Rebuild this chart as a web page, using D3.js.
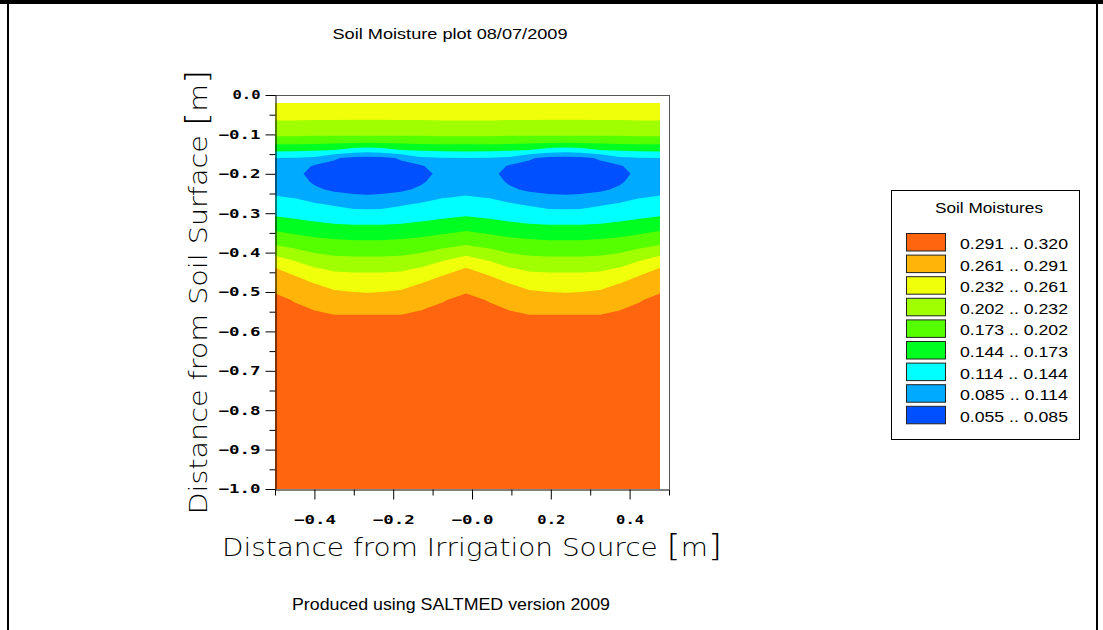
<!DOCTYPE html>
<html><head><meta charset="utf-8">
<script src="https://cdn.jsdelivr.net/npm/d3@7"></script>
<style>html,body{margin:0;padding:0;background:#fff;} svg{display:block}</style>
</head><body>
<svg id="chart" width="1103" height="630"></svg>
<script>
// ---------- DATA ----------
const chartTitle = "Soil Moisture plot 08/07/2009";
const footerText = "Produced using SALTMED version 2009";
const xTitle = "Distance from Irrigation Source ";
const yTitle = "Distance from Soil Surface ";
const legendTitle = "Soil Moistures";

// grid column positions (m from irrigation source)
const xCols = [-0.5, -0.45, -0.4, -0.35, -0.3, -0.265, -0.23, -0.18, -0.13, -0.075, -0.015,
               0.045, 0.095, 0.145, 0.195, 0.237, 0.275, 0.325, 0.375, 0.425, 0.477];
// grid row depths (m)
const depthRows = [-0.02, -0.05, -0.08, -0.10, -0.12, -0.14, -0.16, -0.18, -0.20, -0.22, -0.24,
                   -0.26, -0.28, -0.30, -0.32, -0.34, -0.36, -0.38, -0.40, -0.42, -0.44, -0.46,
                   -0.48, -0.50, -0.52, -0.54, -0.56, -0.58, -0.60, -0.70, -0.80, -0.90, -1.00];
// soil moisture, one row per depth, one value per column
const moisture = [
 [.250,.250,.250,.250,.250,.250,.250,.250,.250,.250,.250,.250,.250,.250,.250,.250,.250,.250,.250,.250,.250],
 [.241,.241,.240,.240,.240,.240,.240,.240,.240,.241,.241,.241,.240,.240,.240,.240,.240,.240,.240,.241,.241],
 [.223,.223,.222,.222,.221,.221,.221,.222,.222,.223,.223,.223,.222,.222,.221,.221,.221,.222,.222,.223,.223],
 [.208,.208,.207,.207,.207,.207,.207,.207,.207,.208,.208,.208,.207,.207,.207,.207,.207,.207,.207,.208,.208],
 [.181,.181,.180,.178,.177,.176,.177,.178,.180,.181,.181,.181,.180,.178,.177,.176,.177,.178,.180,.181,.181],
 [.150,.149,.147,.143,.131,.128,.131,.143,.147,.149,.150,.149,.147,.143,.131,.128,.131,.143,.147,.149,.150],
 [.114,.113,.109,.088,.078,.077,.078,.088,.109,.113,.114,.113,.109,.088,.078,.077,.078,.088,.109,.113,.114],
 [.108,.100,.082,.078,.072,.071,.072,.078,.082,.100,.108,.100,.082,.078,.072,.071,.072,.078,.082,.100,.108],
 [.101,.094,.074,.069,.062,.060,.062,.069,.074,.094,.101,.094,.074,.069,.062,.060,.062,.069,.074,.094,.101],
 [.101,.098,.081,.076,.068,.067,.068,.076,.081,.098,.101,.098,.081,.076,.068,.067,.068,.076,.081,.098,.101],
 [.108,.106,.090,.080,.077,.076,.077,.080,.090,.106,.108,.106,.090,.080,.077,.076,.077,.080,.090,.106,.108],
 [.116,.113,.106,.098,.091,.090,.091,.098,.106,.113,.116,.113,.106,.098,.091,.090,.091,.098,.106,.113,.116],
 [.127,.123,.118,.113,.107,.106,.107,.113,.118,.123,.127,.123,.118,.113,.107,.106,.107,.113,.118,.123,.127],
 [.139,.135,.130,.126,.122,.122,.122,.126,.130,.135,.139,.135,.130,.126,.122,.122,.122,.126,.130,.135,.139],
 [.152,.148,.143,.139,.137,.137,.137,.139,.143,.148,.152,.148,.143,.139,.137,.137,.137,.139,.143,.148,.152],
 [.169,.163,.158,.154,.152,.152,.152,.154,.158,.163,.169,.163,.158,.154,.152,.152,.152,.154,.158,.163,.169],
 [.185,.178,.172,.169,.167,.167,.167,.169,.172,.178,.185,.178,.172,.169,.167,.167,.167,.169,.172,.178,.185],
 [.201,.194,.187,.183,.181,.181,.181,.183,.187,.194,.201,.194,.187,.183,.181,.181,.181,.183,.187,.194,.201],
 [.224,.211,.201,.196,.195,.195,.195,.196,.201,.211,.224,.211,.201,.196,.195,.195,.195,.196,.201,.211,.224],
 [.244,.231,.218,.211,.209,.209,.209,.211,.218,.231,.244,.231,.218,.211,.209,.209,.209,.211,.218,.231,.244],
 [.262,.246,.234,.227,.225,.225,.225,.227,.234,.246,.262,.246,.234,.227,.225,.225,.225,.227,.234,.246,.262],
 [.271,.262,.248,.240,.238,.238,.238,.240,.248,.262,.271,.262,.248,.240,.238,.238,.238,.240,.248,.262,.271],
 [.281,.271,.262,.252,.250,.250,.250,.252,.262,.271,.281,.271,.262,.252,.250,.250,.250,.252,.262,.271,.281],
 [.290,.280,.271,.264,.261,.260,.261,.264,.271,.280,.290,.280,.271,.264,.261,.260,.261,.264,.271,.280,.290],
 [.295,.290,.281,.274,.271,.271,.271,.274,.281,.290,.295,.290,.281,.274,.271,.271,.271,.274,.281,.290,.295],
 [.299,.293,.290,.284,.282,.282,.282,.284,.290,.293,.299,.293,.290,.284,.282,.282,.282,.284,.290,.293,.299],
 [.303,.295,.293,.292,.292,.292,.292,.292,.293,.295,.303,.295,.293,.292,.292,.292,.292,.292,.293,.295,.303],
 [.303,.298,.295,.294,.294,.294,.294,.294,.295,.298,.303,.298,.295,.294,.294,.294,.294,.294,.295,.298,.303],
 [.304,.300,.298,.297,.297,.297,.297,.297,.298,.300,.304,.300,.298,.297,.297,.297,.297,.297,.298,.300,.304],
 [.305,.302,.301,.301,.301,.301,.301,.301,.301,.302,.305,.302,.301,.301,.301,.301,.301,.301,.301,.302,.305],
 [.306,.304,.303,.303,.303,.303,.303,.303,.303,.304,.306,.304,.303,.303,.303,.303,.303,.303,.303,.304,.306],
 [.307,.305,.305,.305,.305,.305,.305,.305,.305,.305,.307,.305,.305,.305,.305,.305,.305,.305,.305,.305,.307],
 [.308,.306,.306,.306,.306,.306,.306,.306,.306,.306,.308,.306,.306,.306,.306,.306,.306,.306,.306,.306,.308]
];

// contour class limits and colours (low -> high)
const levels = [0.055, 0.085, 0.114, 0.144, 0.173, 0.202, 0.232, 0.261, 0.291];
const levelTop = 0.320;
const bandColors = ["#0050ff", "#00aaff", "#00ffff", "#00ff20", "#55ff00", "#a0ff00", "#f0ff0a", "#ffb40a", "#ff640f"];

// axes
const xTicks = [-0.4, -0.2, 0.0, 0.2, 0.4];
const xTickLabels = ["\u22120.4", "\u22120.2", "\u22120.0", "0.2", "0.4"];
const xMinor = [-0.5, -0.3, -0.1, 0.1, 0.3, 0.5];
const yTicks = [0.0, -0.1, -0.2, -0.3, -0.4, -0.5, -0.6, -0.7, -0.8, -0.9, -1.0];
const yTickLabels = ["0.0", "\u22120.1", "\u22120.2", "\u22120.3", "\u22120.4", "\u22120.5", "\u22120.6", "\u22120.7", "\u22120.8", "\u22120.9", "\u22121.0"];
const yMinor = [-0.05, -0.15, -0.25, -0.35, -0.45, -0.55, -0.65, -0.75, -0.85, -0.95];

// ---------- DRAW ----------
const svg = d3.select("#chart");
svg.append("rect").attr("width", 1103).attr("height", 630).attr("fill", "#fff");
// window frame
svg.append("rect").attr("x", 0).attr("y", 0).attr("width", 1103).attr("height", 4).attr("fill", "#000");
svg.append("rect").attr("x", 7).attr("y", 0).attr("width", 2).attr("height", 630).attr("fill", "#000");
svg.append("rect").attr("x", 1096).attr("y", 0).attr("width", 2).attr("height", 630).attr("fill", "#000");

const x = d3.scaleLinear().domain([-0.5, 0.5]).range([275, 669]);
const y = d3.scaleLinear().domain([0, -1]).range([95, 489]);

const nCols = xCols.length, nRows = depthRows.length;
const colScale = d3.scaleLinear().domain(d3.range(nCols)).range(xCols).clamp(true);
const rowScale = d3.scaleLinear().domain(d3.range(nRows)).range(depthRows).clamp(true);

const contours = d3.contours().size([nCols, nRows]).thresholds(levels)(moisture.flat());
const proj = d3.geoTransform({
  point: function (gx, gy) {
    this.stream.point(x(colScale(gx - 0.5)), y(rowScale(gy - 0.5)));
  }
});
const path = d3.geoPath(proj);

svg.append("g").selectAll("path").data(contours).join("path")
  .attr("d", path)
  .attr("fill", d => bandColors[levels.indexOf(d.value)])
  .attr("stroke", "none");

// frame of plot
svg.append("line").attr("x1", 275).attr("x2", 669).attr("y1", 95.5).attr("y2", 95.5).attr("stroke", "#555");
svg.append("line").attr("x1", 669.5).attr("x2", 669.5).attr("y1", 95).attr("y2", 489).attr("stroke", "#555");

const tickFont = "'DejaVu Sans Mono', monospace";

const yAxis = svg.append("g").attr("transform", "translate(275.5,0)")
  .call(d3.axisLeft(y).tickValues(yTicks).tickSize(10).tickSizeOuter(0).tickPadding(5)
    .tickFormat((d, i) => yTickLabels[i]));
svg.append("g").attr("transform", "translate(275.5,0)")
  .call(d3.axisLeft(y).tickValues(yMinor).tickSize(6).tickSizeOuter(0).tickFormat(""))
  .call(g => g.select(".domain").remove());

const xAxis = svg.append("g").attr("transform", "translate(0,489.5)")
  .call(d3.axisBottom(x).tickValues(xTicks).tickSize(10).tickSizeOuter(0).tickPadding(16)
    .tickFormat((d, i) => xTickLabels[i]));
svg.append("g").attr("transform", "translate(0,489.5)")
  .call(d3.axisBottom(x).tickValues(xMinor).tickSize(6).tickSizeOuter(0).tickFormat(""))
  .call(g => g.select(".domain").remove());

svg.selectAll(".tick line, .domain").attr("stroke", "#000");
yAxis.selectAll("text").attr("font-family", tickFont).attr("font-weight", "bold")
  .attr("font-size", 12).attr("fill", "#000")
  .attr("textLength", (d, i) => yTickLabels[i].length > 3 ? 42 : 28).attr("lengthAdjust", "spacingAndGlyphs");
xAxis.selectAll("text").attr("font-family", tickFont).attr("font-weight", "bold")
  .attr("font-size", 12).attr("fill", "#000")
  .attr("textLength", (d, i) => xTickLabels[i].length > 3 ? 42 : 28).attr("lengthAdjust", "spacingAndGlyphs");

// axis titles
const titleFont = "'DejaVu Sans', sans-serif";
const xt = svg.append("text").attr("x", 472).attr("y", 556).attr("text-anchor", "middle")
  .attr("font-family", titleFont).attr("font-weight", 200).attr("font-size", 24).attr("fill", "#000")
  .attr("textLength", 500).attr("lengthAdjust", "spacingAndGlyphs");
xt.append("tspan").text(xTitle);
xt.append("tspan").attr("font-size", 31).text("[");
xt.append("tspan").text("m");
xt.append("tspan").attr("font-size", 31).text("]");

const yt = svg.append("text").attr("transform", "translate(207,292) rotate(-90)").attr("text-anchor", "middle")
  .attr("font-family", titleFont).attr("font-weight", 200).attr("font-size", 24).attr("fill", "#000")
  .attr("textLength", 445).attr("lengthAdjust", "spacingAndGlyphs");
yt.append("tspan").text(yTitle);
yt.append("tspan").attr("font-size", 31).text("[");
yt.append("tspan").text("m");
yt.append("tspan").attr("font-size", 31).text("]");

// title and footer
const uiFont = "'Liberation Sans', Arial, sans-serif";
svg.append("text").attr("x", 450).attr("y", 39).attr("text-anchor", "middle")
  .attr("font-family", uiFont).attr("font-size", 15).attr("fill", "#000")
  .attr("textLength", 235).attr("lengthAdjust", "spacingAndGlyphs").text(chartTitle);
svg.append("text").attr("x", 451).attr("y", 610).attr("text-anchor", "middle")
  .attr("font-family", uiFont).attr("font-size", 17).attr("fill", "#000")
  .attr("textLength", 318).attr("lengthAdjust", "spacingAndGlyphs").text(footerText);

// legend
const lg = svg.append("g");
lg.append("rect").attr("x", 891.5).attr("y", 190.5).attr("width", 188).attr("height", 249)
  .attr("fill", "#fff").attr("stroke", "#000");
lg.append("text").attr("x", 989).attr("y", 212.5).attr("text-anchor", "middle")
  .attr("font-family", uiFont).attr("font-size", 15).attr("fill", "#000")
  .attr("textLength", 108).attr("lengthAdjust", "spacingAndGlyphs").text(legendTitle);
const legendItems = d3.range(levels.length).reverse().map(k => ({
  color: bandColors[k],
  label: levels[k].toFixed(3) + " .. " + (k + 1 < levels.length ? levels[k + 1] : levelTop).toFixed(3)
}));
const li = lg.selectAll("g.item").data(legendItems).join("g").attr("class", "item")
  .attr("transform", (d, i) => `translate(0,${233.5 + i * 21.6})`);
li.append("rect").attr("x", 906.5).attr("y", 0).attr("width", 39).attr("height", 17.5)
  .attr("fill", d => d.color).attr("stroke", "#222");
li.append("text").attr("x", 960).attr("y", 15.5)
  .attr("font-family", uiFont).attr("font-size", 14).attr("fill", "#000")
  .attr("textLength", 108).attr("lengthAdjust", "spacingAndGlyphs").text(d => d.label);
</script></body></html>
